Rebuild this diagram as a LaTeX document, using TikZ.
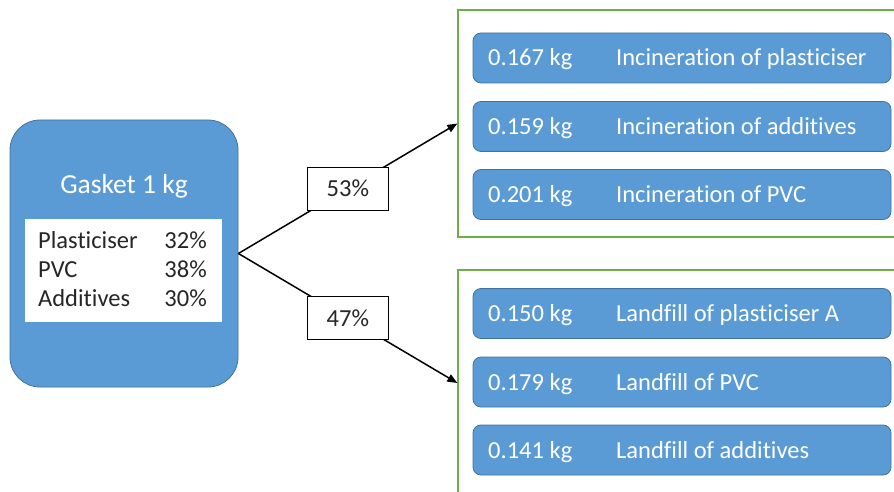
\documentclass[tikz,border=0pt]{standalone}
\usepackage{fontspec}
\setmainfont{Carlito}[Ligatures={NoCommon}]
\usetikzlibrary{arrows.meta}
\definecolor{boxblue}{HTML}{5B9BD5}
\definecolor{boxedge}{HTML}{41719C}
\definecolor{grn}{HTML}{70AD47}
\definecolor{txtgray}{HTML}{262626}
\begin{document}
\begin{tikzpicture}[x=1pt,y=-1pt,
  bluebox/.style={draw=boxedge,fill=boxblue,line width=0.8pt},
  itembox/.style={bluebox,rounded corners=8pt,minimum width=418pt,minimum height=50pt,inner sep=0pt},
  group/.style={draw=grn,line width=1.3pt,minimum width=439pt,inner sep=0pt},
  wtxt/.style={text=white,font=\fontsize{24.5}{29}\selectfont,inner sep=0pt,anchor=base west},
  ktxt/.style={text=txtgray,font=\fontsize{24.5}{29}\selectfont,inner sep=0pt},
  pct/.style={draw=black,fill=white,line width=0.9pt,minimum width=81pt,minimum height=43pt,inner sep=0pt,text=txtgray,font=\fontsize{24.5}{29}\selectfont},
  flow/.style={line width=1.5pt,-{Triangle[length=10pt,width=8pt]}}
]
\useasboundingbox (0,0) rectangle (894,492);
% gasket
\node[bluebox,rounded corners=30pt,minimum width=228pt,minimum height=267pt,inner sep=0pt] (gasket) at (124,253.5) {};
\node[text=white,font=\fontsize{27.5}{32}\selectfont,inner sep=0pt,anchor=base] (gtitle) at (124,193) {Gasket 1 kg};
\node[fill=white,minimum width=197pt,minimum height=103pt,inner sep=0pt] (comp) at (123.5,270.5) {};
\node[ktxt,anchor=base west] (c1) at (38,248) {Plasticiser};
\node[ktxt,anchor=base east] (p1) at (207,248) {32\%};
\node[ktxt,anchor=base west] (c2) at (38,277) {PVC};
\node[ktxt,anchor=base east] (p2) at (207,277) {38\%};
\node[ktxt,anchor=base west] (c3) at (38,306) {Additives};
\node[ktxt,anchor=base east] (p3) at (207,306) {30\%};
% groups
\node[group,minimum height=227pt] (inc) at (677.5,123.5) {};
\node[group,minimum height=226pt] (land) at (677.5,383) {};
% incineration items
\node[itembox] (i1) at (682,58) {};
\node[itembox] (i2) at (682,126.5) {};
\node[itembox] (i3) at (682,194.5) {};
\node[wtxt] (i1a) at (488,66) {0.167 kg};
\node[wtxt] (i1b) at (616,66) {Incineration of plasticiser};
\node[wtxt] (i2a) at (488,134.5) {0.159 kg};
\node[wtxt] (i2b) at (616,134.5) {Incineration of additives};
\node[wtxt] (i3a) at (488,202.5) {0.201 kg};
\node[wtxt] (i3b) at (616,202.5) {Incineration of PVC};
% landfill items
\node[itembox] (l1) at (682,313.5) {};
\node[itembox] (l2) at (682,382) {};
\node[itembox] (l3) at (682,450) {};
\node[wtxt] (l1a) at (488,321.5) {0.150 kg};
\node[wtxt] (l1b) at (616,321.5) {Landfill of plasticiser A};
\node[wtxt] (l2a) at (488,390) {0.179 kg};
\node[wtxt] (l2b) at (616,390) {Landfill of PVC};
\node[wtxt] (l3a) at (488,458) {0.141 kg};
\node[wtxt] (l3b) at (616,458) {Landfill of additives};
% flows
\draw[flow] (gasket.east) -- node[pct] (s53) {53\%} (inc.west);
\draw[flow] (gasket.east) -- node[pct] (s47) {47\%} (land.west);
\end{tikzpicture}
\end{document}
